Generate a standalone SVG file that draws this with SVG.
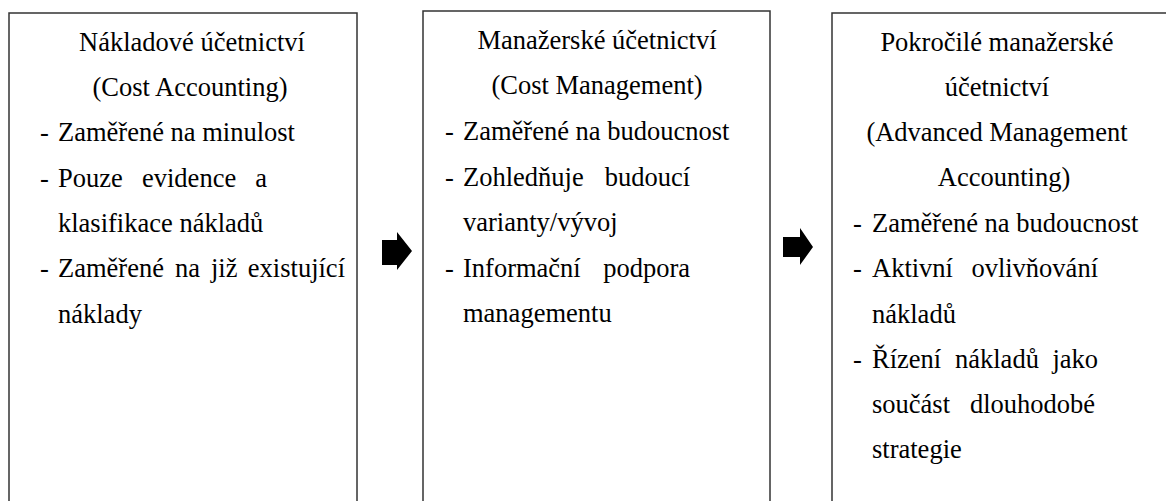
<svg xmlns="http://www.w3.org/2000/svg" width="1166" height="501" viewBox="0 0 1166 501" font-family="'Liberation Serif', 'Times New Roman', serif" font-size="26.5">
<style>
.box{fill:#fff;stroke:#333;stroke-width:1.5}
text{font-family:'Liberation Serif','Times New Roman',serif;font-size:26.5px;fill:#000}
.c{text-anchor:middle}
.e{text-anchor:end}
.arr{fill:#000}
</style>
<rect width="1166" height="501" fill="#fff"/>
<g id="node-cost-accounting">
<rect class="box" x="9" y="13" width="348" height="500"/>
<text class="c" x="192" y="51">Nákladové účetnictví</text>
<text class="c" x="190" y="96">(Cost Accounting)</text>
<text x="40" y="141">-</text><text x="58" y="141">Zaměřené na minulost</text>
<text x="40" y="187">-</text><text x="58" y="187">Pouze</text><text x="142" y="187">evidence</text><text class="e" x="267" y="187">a</text>
<text x="58" y="232">klasifikace nákladů</text>
<text x="40" y="277">-</text><text x="58" y="277">Zaměřené</text><text x="175" y="277">na</text><text x="211" y="277">již</text><text class="e" x="345" y="277">existující</text>
<text x="58" y="323">náklady</text>
</g>
<g id="node-cost-management">
<rect class="box" x="423" y="11" width="347" height="502"/>
<text class="c" x="597" y="49">Manažerské účetnictví</text>
<text class="c" x="597" y="94">(Cost Management)</text>
<text x="445" y="140">-</text><text x="463" y="140">Zaměřené na budoucnost</text>
<text x="445" y="186">-</text><text x="463" y="186">Zohledňuje</text><text class="e" x="690" y="186">budoucí</text>
<text x="463" y="231">varianty/vývoj</text>
<text x="445" y="277">-</text><text x="463" y="277">Informační</text><text class="e" x="690" y="277">podpora</text>
<text x="463" y="322">managementu</text>
</g>
<g id="node-advanced-management-accounting">
<rect class="box" x="832" y="13" width="340" height="500"/>
<text class="c" x="997" y="51">Pokročilé manažerské</text>
<text class="c" x="997" y="96">účetnictví</text>
<text class="c" x="997" y="141">(Advanced Management</text>
<text class="c" x="1004" y="186">Accounting)</text>
<text x="853" y="232">-</text><text x="872" y="232">Zaměřené na budoucnost</text>
<text x="853" y="277">-</text><text x="872" y="277">Aktivní</text><text class="e" x="1098" y="277">ovlivňování</text>
<text x="872" y="323">nákladů</text>
<text x="853" y="368">-</text><text x="872" y="368">Řízení</text><text x="955" y="368">nákladů</text><text class="e" x="1098" y="368">jako</text>
<text x="872" y="413">součást</text><text class="e" x="1095" y="413">dlouhodobé</text>
<text x="872" y="458">strategie</text>
</g>
<g id="connectors">
<polygon class="arr" points="382,240 397,240 397,232 412,251 397,270 397,265 382,265"/>
<polygon class="arr" points="783,237 800,237 800,228 813,247 800,265 800,257 783,257"/>
</g>
</svg>
